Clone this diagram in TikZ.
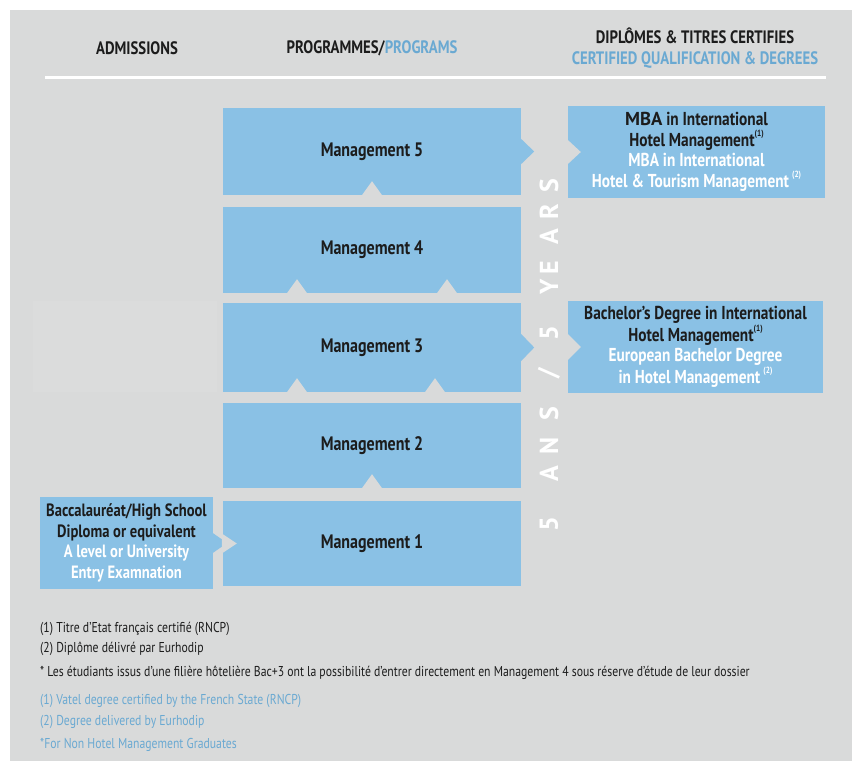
\documentclass[tikz,border=0pt]{standalone}
\usepackage{fontspec}
\setmainfont{PT Sans}
\newfontfamily\condfont[FakeStretch=0.82]{PT Sans}
\newfontfamily\narrowfont[FakeStretch=0.82]{PT Sans}
\usetikzlibrary{calc}
\definecolor{bggray}{HTML}{D9DADA}
\definecolor{boxblue}{HTML}{8AC1E5}
\definecolor{hblue}{HTML}{6AA9D2}
\definecolor{ink}{HTML}{1C1C1C}
\definecolor{ghost}{HTML}{DBDCDC}
\newcommand\supn[1]{\raisebox{0.55em}{\fontsize{9}{9}\selectfont(#1)}}
\newcommand\notchat[2]{\fill[bggray] ($(#1)+(#2-10.5,0.6)$) -- ++(10.5,-14.6) -- ++(10.5,14.6) -- cycle;}
\newcommand\tipright[3]{\fill[boxblue] ($(#1.east)+(-0.5,-#2)$) -- ($(#1.east)+(#3,0)$) -- ($(#1.east)+(-0.5,#2)$) -- cycle;}
\newcommand\notchleft[3]{\fill[bggray] ($(#1.west)+(-1,-#2)$) -- ($(#1.west)+(#3,0)$) -- ($(#1.west)+(-1,#2)$) -- cycle;}
\tikzset{
 hdr/.style={font=\condfont\bfseries\fontsize{18}{21}\selectfont, text=ink, align=center, inner sep=0},
 prog/.style={fill=boxblue, inner sep=0, minimum width=298pt, font=\condfont\bfseries\fontsize{19.5}{20}\selectfont, text=ink},
 qual/.style={fill=boxblue, inner sep=0, align=center, minimum height=92pt, font=\condfont\bfseries\fontsize{18.7}{20.5}\selectfont, text=ink},
 note/.style={anchor=west, inner sep=0, font=\narrowfont\fontsize{14.3}{15}\selectfont, text=ink},
 bluenote/.style={note, text=hblue},
 yr/.style={rotate=90, text=white, inner sep=0, font=\bfseries\fontsize{26}{26}\selectfont},
}
\begin{document}
\begin{tikzpicture}[x=1pt,y=-1pt]
\useasboundingbox (0,0) rectangle (852,761);
\fill[white] (0,0) rectangle (852,761);
\fill[bggray] (10,10) rectangle (852,761);
\fill[ghost] (33,301) rectangle (217,392);

% header
\node[hdr] (hadm) at (137,48) {ADMISSIONS};
\node[hdr] (hprog) at (372,48) {PROGRAMMES/\textcolor{hblue}{PROGRAMS}};
\node[hdr] (hdip) at (695,48.5) {DIPLÔMES \& TITRES CERTIFIES\\\textcolor{hblue}{CERTIFIED QUALIFICATION \& DEGREES}};
\coordinate (ruleL) at (45,77);
\coordinate (ruleR) at (826,77);
\draw[white, line width=3pt] (ruleL) -- (ruleR);

% programmes
\node[prog, minimum height=87pt] (m5) at (372,151.5) {Management 5};
\node[prog, minimum height=86pt] (m4) at (372,250) {Management 4};
\node[prog, minimum height=89pt] (m3) at (372,347.5) {Management 3};
\node[prog, minimum height=85pt] (m2) at (372,445.5) {Management 2};
\node[prog, minimum height=85pt] (m1) at (372,543.5) {Management 1};

\notchat{m5.south}{0}
\notchat{m4.south}{-75}
\notchat{m4.south}{75}
\notchat{m3.south}{-75}
\notchat{m3.south}{63}
\notchat{m2.south}{0}

% admissions
\node[qual, minimum width=173pt, font=\condfont\bfseries\fontsize{17.8}{20.4}\selectfont] (adm) at (126.5,543) {Baccalauréat/High School\\Diploma or equivalent\\\textcolor{white}{A level or University}\\\textcolor{white}{Entry Examnation}};

% qualifications
\node[qual, minimum width=257pt] (mba) at (696.5,152) {{\fontspec{PT Sans}MBA} in International\\Hotel Management\supn{1}\\\textcolor{white}{MBA in International}\\\textcolor{white}{Hotel \& Tourism Management\,\supn{2}}};
\node[qual, minimum width=255pt] (bach) at (695.5,347) {Bachelor’s Degree in International\\Hotel Management\supn{1}\\\textcolor{white}{European Bachelor Degree}\\\textcolor{white}{in Hotel Management\,\supn{2}}};

% arrows between stages
\tipright{adm}{10}{14}
\notchleft{m1}{10}{14}
\tipright{m5}{13}{13}
\notchleft{mba}{13}{13}
\tipright{m3}{14}{13}
\notchleft{bach}{14}{13}

% vertical duration
\foreach \c/\yy in {5/524,A/474,N/446,S/414,5/333,Y/287,E/268,A/237,R/212,S/186}
  \node[yr] (v\yy) at (549,\yy) {\c};
\node[yr] (vslash) at (549,373) {/};

% footnotes
\node[note] (n1) at (40,629) {(1) Titre d’Etat français certifié (RNCP)};
\node[note] (n2) at (40,649) {(2) Diplôme délivré par Eurhodip};
\node[note] (n3) at (40,673) {* Les étudiants issus d’une filière hôtelière Bac+3 ont la possibilité d’entrer directement en Management 4 sous réserve d’étude de leur dossier};
\node[bluenote] (e1) at (40,701) {(1) Vatel degree certified by the French State (RNCP)};
\node[bluenote] (e2) at (40,722) {(2) Degree delivered by Eurhodip};
\node[bluenote] (e3) at (40,745) {*For Non Hotel Management Graduates};
\end{tikzpicture}
\end{document}
